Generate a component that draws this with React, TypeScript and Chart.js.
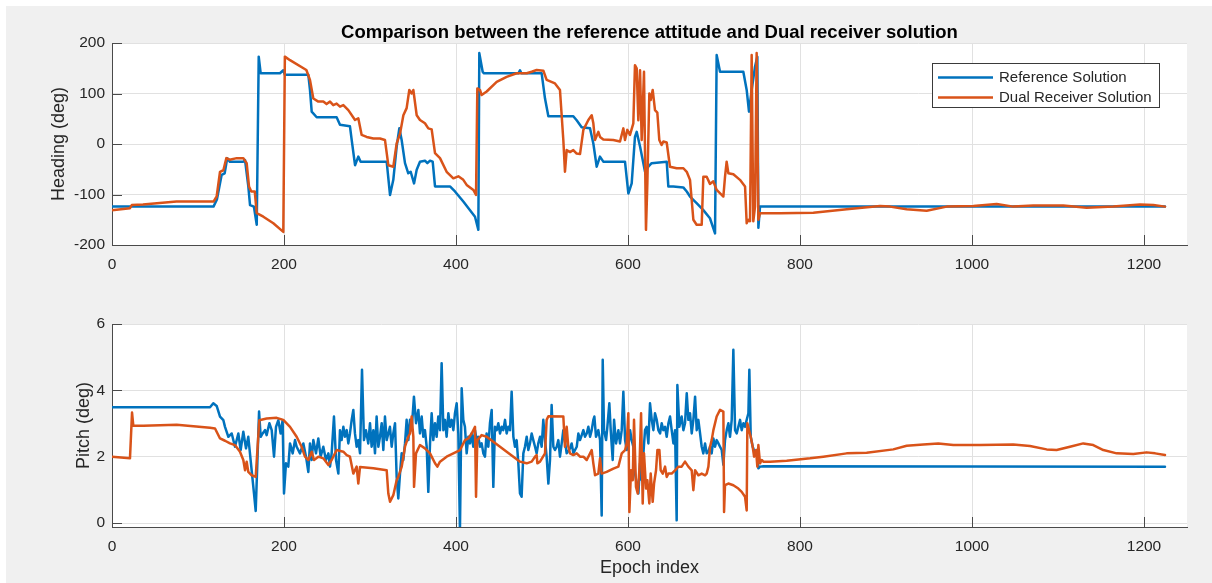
import React, { useEffect, useRef } from 'react';
import { Chart, registerables } from 'chart.js';

Chart.register(...registerables);

// ---------- data ----------
const titleText = 'Comparison between the reference attitude and Dual receiver solution';
const seriesNames = ['Reference Solution', 'Dual Receiver Solution'];
const xLabel = 'Epoch index';
const headingLabel = 'Heading (deg)';
const pitchLabel = 'Pitch (deg)';

const epochTicks = [0, 200, 400, 600, 800, 1000, 1200];
const headingTicks = [-200, -100, 0, 100, 200];
const pitchTicks = [0, 2, 4, 6];

// [epoch, heading deg]
const headingRef: number[][] = [
  [0, -124], [118, -124], [122, -110], [127.5, -61], [131, -58], [134, -28], [137, -35], [152.7, -35], [154.7, -32],
  [158.5, -84], [160.5, -121], [165, -124], [168.3, -160], [170.6, 173], [172.9, 140], [195.3, 140], [199.2, 146],
  [201, 137], [228.3, 137], [230.2, 107], [232.2, 64], [238, 53], [261.2, 53], [265.1, 38], [276.7, 35], [278.7, 8],
  [282.6, -42], [286.4, -25], [289.1, -35], [319.4, -35], [323.3, -101], [327.1, -71], [331, -5], [334.1, 31],
  [336.8, 8], [340.7, -38], [344.5, -58], [347.3, -55], [351.2, -78], [354.3, -51], [358.1, -35], [363.9, -33],
  [366.7, -38], [369.8, -33], [372.9, -35], [375.6, -84], [379.5, -84], [393, -84], [398.8, -94], [408.5, -114],
  [416.3, -131], [422.1, -144], [426, -170], [427.1, 180], [431, 143], [432.6, 140], [472.5, 140], [474.4, 146],
  [476, 140], [499.6, 140], [503.5, 90], [507.4, 55], [536.4, 55], [540.3, 47], [546.1, 33], [555.8, 31],
  [559.7, 1], [563.6, -45], [567.4, -25], [571.3, -35], [596.5, -35], [600.4, -98], [604.3, -78], [608.1, 14],
  [610.1, 24], [614, -5], [619.8, -55], [623.6, -45], [627.5, -38], [645, -35], [646.9, -84], [652.7, -84],
  [664.3, -86], [668.3, -94], [672.1, -104], [679.8, -117], [687.6, -131], [695.3, -147], [701.2, -177],
  [703.1, 176], [707, 143], [734.1, 143], [738, 107], [740.7, 64], [743.8, 107], [747.7, 153], [750.4, 173],
  [751.6, -166], [753.5, -124], [1224.4, -124],
];

const headingDual: number[][] = [
  [0, -131], [20.9, -127], [23, -121], [36, -120], [75, -114], [118, -114], [121.7, -104], [125.6, -55], [129.5, -52],
  [133, -28], [137, -31], [145, -28], [152.7, -28], [156.6, -38], [159.3, -84], [162, -94], [166, -94], [168.3, -137],
  [176, -144], [187.6, -157], [199.2, -174], [201, 173], [207, 166], [226, 146.5], [230.2, 127], [234.1, 90],
  [239.9, 84], [245.7, 84], [249.5, 79], [253.5, 84], [257.3, 77], [261.2, 80], [265.1, 74], [269, 77], [274.8, 67],
  [282.6, 47.5], [286.4, 51], [290.3, 18], [296.1, 14], [303.9, 11], [311.6, 11], [317.4, 8], [321.3, -42],
  [327.1, -45], [331, 1], [335, 21], [338.8, 57], [342.6, 71], [345.7, 107], [348.4, 100], [350.4, 107], [354.3, 57],
  [358.1, 47.5], [363.9, 41], [367.8, 31], [371.7, 29], [375.6, -18], [381.4, -28], [389.1, -55], [396.9, -68],
  [402.7, -64], [408.5, -71], [412.4, -81], [420.2, -91], [423.3, -101], [424.8, 110], [427.9, 107], [429.8, 97],
  [435.7, 104], [447.3, 123], [458.9, 133], [470.5, 140], [482.2, 140], [488, 143], [493.8, 146.5], [501.6, 145],
  [505.4, 127], [515.1, 120], [520.9, 107], [524.8, 8], [526.7, -55], [528.7, -12], [532.6, -16], [536.4, -12],
  [540.3, -19], [544.2, -20], [548.1, 28], [553.9, 47.5], [557.8, 57], [559.7, 41], [561.6, 8], [565.5, 24],
  [567.5, 14], [571.3, 9], [582.9, 8], [590.7, 5], [594.6, 31], [596.5, 8], [599.2, 28], [602.3, 18], [606.2, 41],
  [608.1, 156], [610.1, 150], [612, 47], [614, 146], [615.9, 8], [618.6, 143], [620.9, -170], [622.5, -78],
  [624.8, 100], [626.4, 87], [628.7, 107], [631.4, 67], [634.1, 62], [636.4, 8], [639.1, -2], [641.1, 5], [645, 3],
  [648.8, -45], [656.6, -48], [664.4, -48], [668.3, -55], [672.1, -71], [676, -150], [679.8, -160], [685.7, -160],
  [687.6, -65], [691.5, -65], [695.3, -79], [699.2, -74], [703.1, -91], [710.9, -104], [712.8, -65], [714.7, -35],
  [716.7, -58], [722.5, -60], [730.2, -71], [736.1, -84], [738, -157], [740, -150], [741.9, -153], [743.8, 176],
  [745.7, -153], [747.7, -124], [749.6, 180], [751.6, -150], [753.5, -137], [776.7, -137], [815.5, -136],
  [854.3, -129], [893, -123], [904.7, -124], [924, -129], [947.3, -132], [970.6, -124], [1001.6, -123],
  [1028.7, -119], [1048, -124], [1071.3, -122], [1106.2, -122], [1133.3, -126], [1164.3, -124], [1195.3, -120],
  [1210.9, -121], [1224.4, -124],
];

// [epoch, pitch deg]
const pitchRef: number[][] = [
  [0, 3.49], [114, 3.49], [117.8, 3.61], [121.7, 3.53], [125.6, 3.21], [129.5, 3.1], [131.4, 2.9], [135.3, 2.6],
  [139.2, 2.7], [143, 2.3], [146.9, 2.7], [149.6, 2.2], [152.7, 2.75], [155.8, 2.25], [158.5, 2.6], [162.4, 1.59],
  [165.1, 0.89], [167.1, 0.36], [169, 1.8], [171, 3.36], [172.9, 2.6], [175.2, 2.7], [177.9, 2.8], [179.8, 2.65],
  [183, 3.01], [185.7, 2.8], [188.4, 2.0], [190.7, 2.9], [193.4, 3.1], [196.1, 2.7], [198.4, 3.1], [200, 0.89],
  [202.3, 1.8], [205, 1.7], [207, 2.4], [210.1, 2.1], [212.8, 2.5], [214.7, 2.3], [218.6, 2.1], [222.5, 2.4],
  [225.6, 2.0], [228.3, 1.54], [230.2, 2.4], [232.2, 1.9], [234.1, 2.5], [237.2, 2.1], [239.9, 2.55], [242.6, 2.0],
  [245.7, 2.3], [248.8, 1.9], [251.6, 2.1], [253.5, 1.7], [255.4, 2.1], [258.1, 3.21], [260.5, 1.9], [263.2, 1.49],
  [265.1, 2.8], [267, 2.5], [269, 2.9], [270.9, 2.6], [272.9, 2.8], [274.8, 2.4], [276.7, 2.7], [278.7, 3.11],
  [280.6, 3.41], [282.5, 2.7], [284.5, 2.3], [286.4, 2.5], [288.4, 2.1], [290.7, 4.62], [293, 2.5], [295.3, 2.8],
  [298, 2.4], [300, 3.01], [301.9, 2.3], [303.9, 2.8], [305.8, 2.1], [307.7, 3.21], [309.7, 2.3], [311.6, 2.6],
  [313.6, 3.01], [315.5, 2.2], [317.4, 3.21], [319.4, 2.5], [321.3, 2.7], [323.2, 2.9], [325.2, 2.3], [327.1, 2.7],
  [329.1, 3.01], [331, 1.39], [332.9, 0.74], [334.9, 1.49], [336.8, 2.1], [338.7, 1.9], [340.7, 2.4], [342.6, 3.11],
  [344.6, 2.5], [346.5, 3.11], [348.4, 2.8], [351.1, 3.81], [353.5, 3.01], [356.2, 3.41], [358.1, 2.7], [360.1, 3.21],
  [362, 2.6], [363.9, 2.8], [365.9, 2.3], [367.8, 0.94], [369.8, 2.4], [371.7, 3.31], [373.6, 2.5], [375.6, 3.01],
  [377.5, 2.6], [379.4, 3.21], [381.4, 2.8], [383.3, 4.82], [385.3, 2.8], [387.2, 3.11], [389.1, 2.6], [391.1, 3.31],
  [393, 2.9], [395, 3.11], [396.9, 2.8], [398.8, 3.31], [400.8, 3.61], [402.7, 2.7], [404.6, -0.2], [406.6, 4.06],
  [408.5, 3.11], [410.4, 2.9], [412.4, 2.1], [414.3, 2.6], [416.3, 2.4], [418.2, 2.7], [420.1, 2.3], [422.1, 2.8],
  [424, 2.5], [425.9, 2.6], [427.9, 2.3], [429.8, 2.4], [431.8, 2.1], [433.7, 2.0], [435.6, 2.7], [437.6, 2.3],
  [439.5, 3.01], [441.5, 3.41], [443.4, 1.09], [445.3, 2.9], [447.3, 2.8], [449.2, 3.01], [451.2, 2.7], [453.1, 2.9],
  [455, 2.8], [457, 3.11], [458.9, 2.7], [460.8, 2.9], [462.8, 2.8], [464.7, 3.96], [466.7, 2.6], [468.6, 2.3],
  [470.5, 2.5], [472.5, 1.8], [474.4, 0.89], [476.3, 0.79], [478.3, 2.1], [480.2, 2.3], [482.2, 2.6], [484.1, 2.2],
  [486, 2.4], [488, 2.7], [489.9, 2.5], [491.9, 2.3], [493.8, 2.1], [495.7, 2.4], [497.7, 2.6], [499.6, 2.3],
  [501.5, 3.11], [503.5, 2.5], [505.4, 2.0], [507.4, 1.19], [509.3, 1.9], [511.2, 3.56], [513.2, 2.3], [515.1, 2.2],
  [517.1, 2.3], [519, 2.5], [520.9, 2.0], [522.9, 2.4], [524.8, 2.8], [528.7, 2.1], [532.6, 2.25], [534.5, 2.4],
  [536.5, 2.1], [538.4, 2.2], [540.4, 2.3], [542.3, 2.7], [544.2, 2.5], [546.2, 2.65], [548.1, 2.8], [550, 2.6],
  [552, 2.7], [553.9, 2.9], [555.9, 2.6], [557.8, 2.8], [559.7, 3.11], [560.9, 3.21], [562.8, 2.6], [565.5, 2.8],
  [567.5, 2.5], [569.4, 0.23], [570.6, 4.92], [572.1, 2.8], [574.5, 2.5], [576, 2.9], [578.3, 3.61], [579.9, 2.8],
  [582.2, 1.9], [583.8, 3.11], [586.1, 2.4], [588.8, 2.8], [590.7, 2.4], [592.7, 2.8], [594.6, 3.96], [596.6, 2.5],
  [598.5, 2.2], [600.4, 2.3], [602.4, 2.8], [604.3, 2.5], [606.2, 2.3], [608.2, 1.49], [610.1, 1.19], [612.1, 0.89],
  [614, 1.8], [615.9, 1.29], [617.9, 2.1], [619.8, 2.8], [621.7, 2.9], [623.7, 2.4], [625.6, 3.61], [627.6, 3.11],
  [629.5, 2.8], [631.4, 3.31], [633.4, 3.11], [635.3, 2.8], [637.3, 2.7], [639.2, 3.01], [641.1, 2.8], [643.1, 2.9],
  [645, 2.6], [647, 3.01], [648.9, 3.21], [650.8, 2.8], [652.8, 2.4], [654.7, 2.8], [656.6, 0.08], [657.4, 4.16],
  [659.7, 2.9], [662.4, 3.21], [664.4, 2.8], [666.3, 3.01], [668.3, 3.91], [670.2, 3.11], [672.1, 3.31], [674.1, 2.7],
  [676, 3.11], [678, 3.81], [679.9, 2.8], [681.8, 3.11], [683.8, 2.7], [685.7, 2.3], [687.6, 2.1], [689.6, 2.4],
  [691.5, 2.1], [693.5, 2.15], [695.4, 2.3], [697.3, 2.1], [699.3, 2.55], [701.2, 2.3], [703.1, 2.5], [705.1, 2.4],
  [707, 2.3], [709, 2.2], [710.9, 1.75], [712.8, 2.5], [714.8, 2.8], [716.7, 3.01], [718.6, 2.6], [720.6, 3.11],
  [722.5, 5.22], [724.5, 2.8], [726.4, 2.7], [728.3, 2.9], [730.3, 3.11], [732.2, 2.8], [734.2, 3.01], [736.1, 2.9],
  [738, 3.11], [740, 3.31], [741.1, 4.62], [742.7, 2.6], [745, 2.3], [747.7, 2.1], [749.7, 2.2], [751.6, 1.65],
  [753.5, 1.7], [757.4, 1.71], [1224.4, 1.7],
];

const pitchDual: number[][] = [
  [0, 2.0], [20.9, 1.95], [23.3, 3.33], [24.8, 2.93], [36.4, 2.93], [75.2, 2.96], [114, 2.87], [119.8, 2.85],
  [125.6, 2.55], [131.4, 2.48], [137.2, 2.4], [143, 2.35], [148.8, 2.15], [152.7, 1.9], [154.7, 1.59], [156.6, 1.85],
  [158.5, 1.54], [162.4, 1.44], [167.1, 1.39], [171.3, 3.1], [179.8, 3.15], [191.5, 3.17], [199.2, 3.11], [207, 2.9],
  [214.7, 2.6], [220.5, 2.3], [224.4, 2.0], [228.3, 1.9], [232.2, 2.15], [234.9, 1.9], [239.9, 2.0], [245.7, 1.95],
  [251.6, 1.75], [255.4, 1.9], [261.2, 2.2], [269, 2.15], [272.9, 2.05], [276.7, 2.0], [280.6, 1.49], [284.5, 1.7],
  [286.4, 1.19], [288.4, 1.69], [303.9, 1.65], [319.4, 1.59], [321.3, 0.89], [323.3, 0.64], [327.1, 0.84],
  [331, 1.29], [332.9, 1.39], [336.8, 1.69], [340.7, 2.3], [344.5, 2.6], [346.5, 2.7], [348.4, 3.21], [350.4, 2.6],
  [351.2, 1.09], [353.5, 2.1], [358.1, 2.35], [363.9, 2.25], [369.8, 2.1], [375.6, 1.8], [378.3, 1.7], [381.4, 1.85],
  [389.1, 2.0], [396.9, 2.1], [404.7, 2.2], [410.5, 2.5], [414.3, 2.55], [418.2, 2.7], [422.1, 2.9], [423.3, 0.79],
  [424.8, 2.5], [429.8, 2.65], [435.7, 2.6], [443.4, 2.45], [451.2, 2.3], [458.9, 2.15], [466.7, 2.0], [474.4, 1.85],
  [482.2, 1.8], [488, 1.85], [491.9, 2.0], [493.8, 2.05], [494.6, 1.8], [497.7, 1.85], [503.5, 2.1], [505.4, 3.11],
  [507.4, 3.22], [524.8, 3.21], [526.7, 2.3], [528.7, 2.9], [530.6, 2.3], [532.6, 2.1], [536.4, 2.05], [540.4, 2.1],
  [544.2, 2.0], [548.1, 2.0], [552, 1.9], [555.9, 2.1], [557.8, 2.2], [559.7, 1.8], [561.7, 1.44], [565.5, 1.49],
  [567.5, 1.95], [569.4, 1.49], [575.2, 1.54], [583, 1.64], [588.8, 1.7], [592.7, 2.1], [596.6, 2.2], [598.5, 2.4],
  [600.4, 3.31], [601.6, 0.33], [603.5, 1.59], [605.5, 1.29], [607, 3.11], [609.3, 1.09], [611.3, 0.89],
  [613.2, 1.59], [615.2, 3.31], [617.1, 0.59], [618.6, 2.1], [621, 1.04], [622.5, 1.29], [624.8, 0.59], [626.4, 1.49],
  [628.7, 0.64], [630.3, 1.19], [632.6, 1.59], [634.2, 2.2], [636.5, 2.2], [638, 1.59], [640.4, 1.49], [643.1, 1.7],
  [645, 1.39], [647, 1.49], [650.8, 1.49], [654.7, 1.59], [658.6, 1.7], [662.4, 1.7], [666.3, 1.85], [670.2, 1.7],
  [674.1, 1.59], [676, 0.99], [678, 1.59], [681.8, 1.44], [685.7, 1.49], [689.6, 1.44], [691.5, 1.49], [693.5, 1.7],
  [695.4, 2.3], [697.3, 2.5], [699.3, 2.8], [703.1, 3.21], [707, 3.41], [710.9, 3.36], [711.7, 0.33], [712.8, 1.14],
  [716.7, 1.19], [722.5, 1.14], [728.3, 1.04], [732.2, 0.94], [736.1, 0.79], [738, 0.38], [738.8, 3.01],
  [740.7, 2.8], [742.7, 2.6], [745, 2.3], [746.6, 2.0], [748.9, 2.2], [750.4, 1.7], [751.6, 2.35], [753.5, 1.8],
  [755.5, 1.9], [757.4, 1.85], [765.2, 1.85], [784.5, 1.88], [811.7, 1.95], [827.1, 2.0], [854.2, 2.1],
  [877.5, 2.12], [908.5, 2.22], [924, 2.33], [943.4, 2.37], [960.8, 2.4], [978.3, 2.35], [1009.3, 2.35],
  [1048, 2.37], [1067.4, 2.32], [1086.8, 2.22], [1098.4, 2.2], [1113.9, 2.3], [1129.4, 2.4], [1141, 2.35],
  [1152.7, 2.2], [1168.2, 2.1], [1187.6, 2.08], [1203, 2.13], [1213, 2.1], [1224.4, 2.05],
];

// ---------- styling ----------
const BLUE = '#0072BD';
const ORANGE = '#D95319';
const AXIS = '#4a4a4a';
const GRID = '#e1e1e1';
const TEXT = '#262626';
const FONT = "'Liberation Sans', Arial, Helvetica, sans-serif";

type Extra = (ctx: CanvasRenderingContext2D, area: any) => void;

function makeDecor(extra: Extra) {
  return {
    id: 'decor',
    beforeDraw(chart: any) {
      const { ctx, chartArea: a } = chart;
      ctx.save();
      ctx.fillStyle = '#ffffff';
      ctx.fillRect(a.left, a.top, a.right - a.left, a.bottom - a.top);
      ctx.restore();
    },
    beforeDatasetsDraw(chart: any) {
      const { ctx, chartArea: a, scales } = chart;
      ctx.save();
      ctx.strokeStyle = AXIS;
      ctx.lineWidth = 1;
      ctx.beginPath();
      for (const t of scales.x.ticks) {
        const px = Math.round(scales.x.getPixelForValue(t.value)) + 0.5;
        ctx.moveTo(px, a.bottom);
        ctx.lineTo(px, a.bottom - 10);
      }
      for (const t of scales.y.ticks) {
        const py = Math.round(scales.y.getPixelForValue(t.value)) + 0.5;
        ctx.moveTo(a.left, py);
        ctx.lineTo(a.left + 10, py);
      }
      ctx.stroke();
      ctx.restore();
    },
    afterDraw(chart: any) {
      const { ctx, chartArea } = chart;
      ctx.save();
      extra(ctx, chartArea);
      ctx.restore();
    },
  };
}

function drawYLabel(ctx: CanvasRenderingContext2D, text: string, x: number, y: number) {
  ctx.save();
  ctx.translate(x, y);
  ctx.rotate(-Math.PI / 2);
  ctx.font = `18px ${FONT}`;
  ctx.fillStyle = TEXT;
  ctx.textAlign = 'center';
  ctx.textBaseline = 'alphabetic';
  ctx.fillText(text, 0, 0);
  ctx.restore();
}

const topExtra: Extra = (ctx, a) => {
  // title
  ctx.font = `bold 18.5px ${FONT}`;
  ctx.fillStyle = '#000';
  ctx.textAlign = 'center';
  ctx.textBaseline = 'alphabetic';
  ctx.fillText(titleText, (a.left + a.right) / 2, 37.5);
  drawYLabel(ctx, headingLabel, 63.5, (a.top + a.bottom) / 2);
  // legend
  const lx = 932.5, ly = 63.5, lw = 227, lh = 44;
  ctx.fillStyle = '#fff';
  ctx.fillRect(lx, ly, lw, lh);
  ctx.strokeStyle = '#3a3a3a';
  ctx.lineWidth = 1;
  ctx.strokeRect(lx, ly, lw, lh);
  const rows = [
    { name: seriesNames[0], color: BLUE, y: 77.5 },
    { name: seriesNames[1], color: ORANGE, y: 97.5 },
  ];
  ctx.font = `15px ${FONT}`;
  ctx.textAlign = 'left';
  ctx.textBaseline = 'middle';
  for (const r of rows) {
    ctx.strokeStyle = r.color;
    ctx.lineWidth = 2.5;
    ctx.beginPath();
    ctx.moveTo(938, r.y);
    ctx.lineTo(993, r.y);
    ctx.stroke();
    ctx.fillStyle = TEXT;
    ctx.fillText(r.name, 999, r.y);
  }
};

const bottomExtra: Extra = (ctx, a) => {
  drawYLabel(ctx, pitchLabel, 89, (a.top + a.bottom) / 2);
  ctx.font = `18px ${FONT}`;
  ctx.fillStyle = TEXT;
  ctx.textAlign = 'center';
  ctx.textBaseline = 'alphabetic';
  ctx.fillText(xLabel, (a.left + a.right) / 2, 283);
};

interface PanelProps {
  top: number;
  height: number;
  padTop: number;
  xHeight: number;
  yMin: number;
  yMax: number;
  yTicks: number[];
  refData: number[][];
  dualData: number[][];
  extra: Extra;
}

function Panel(p: PanelProps) {
  const ref = useRef<HTMLCanvasElement>(null);
  useEffect(() => {
    const tickFont = { family: FONT, size: 15.5 };
    const chart = new Chart(ref.current as HTMLCanvasElement, {
      type: 'line',
      data: {
        datasets: [
          {
            label: seriesNames[0],
            data: p.refData.map(([x, y]) => ({ x, y })),
            borderColor: BLUE,
            backgroundColor: BLUE,
            borderWidth: 2.5,
            pointRadius: 0,
            tension: 0,
            borderJoinStyle: 'round',
            borderCapStyle: 'round',
            order: 2,
          },
          {
            label: seriesNames[1],
            data: p.dualData.map(([x, y]) => ({ x, y })),
            borderColor: ORANGE,
            backgroundColor: ORANGE,
            borderWidth: 2.5,
            pointRadius: 0,
            tension: 0,
            borderJoinStyle: 'round',
            borderCapStyle: 'round',
            order: 1,
          },
        ],
      },
      options: {
        responsive: false,
        maintainAspectRatio: false,
        animation: false,
        devicePixelRatio: 1,
        layout: { padding: { left: 0, right: 25, top: p.padTop, bottom: 0 } },
        plugins: {
          legend: { display: false },
          tooltip: { enabled: false },
          title: { display: false },
        },
        scales: {
          x: {
            type: 'linear',
            min: 0,
            max: 1250,
            afterBuildTicks: (s: any) => {
              s.ticks = epochTicks.map((v) => ({ value: v }));
            },
            afterFit: (s: any) => {
              s.height = p.xHeight;
            },
            ticks: {
              font: tickFont,
              color: TEXT,
              padding: 10,
              maxRotation: 0,
              autoSkip: false,
              callback: (v: any) => String(v),
            },
            grid: { color: GRID, lineWidth: 1, drawTicks: false },
            border: { display: true, color: AXIS, width: 1 },
          },
          y: {
            type: 'linear',
            min: p.yMin,
            max: p.yMax,
            afterBuildTicks: (s: any) => {
              s.ticks = p.yTicks.map((v) => ({ value: v }));
            },
            afterFit: (s: any) => {
              s.width = 112;
            },
            ticks: {
              font: tickFont,
              color: TEXT,
              padding: 7,
              autoSkip: false,
              callback: (v: any) => String(v),
            },
            grid: { color: GRID, lineWidth: 1, drawTicks: false },
            border: { display: true, color: AXIS, width: 1 },
          },
        },
      } as any,
      plugins: [makeDecor(p.extra)],
    });
    return () => chart.destroy();
  }, []);
  return (
    <canvas
      ref={ref}
      width={1212}
      height={p.height}
      style={{ position: 'absolute', left: 0, top: p.top, width: 1212, height: p.height }}
    />
  );
}

export default function App() {
  return (
    <div style={{ position: 'absolute', left: 0, top: 0, width: 1212, height: 583, background: '#ffffff', overflow: 'hidden' }}>
      <div style={{ position: 'absolute', left: 6, top: 6, width: 1206, height: 577, background: '#f0f0f0' }} />
      <Panel
        top={0}
        height={290}
        padTop={43}
        xHeight={45}
        yMin={-200}
        yMax={200}
        yTicks={headingTicks}
        refData={headingRef}
        dualData={headingDual}
        extra={topExtra}
      />
      <Panel
        top={290}
        height={293}
        padTop={34}
        xHeight={56}
        yMin={-0.12}
        yMax={6}
        yTicks={pitchTicks}
        refData={pitchRef}
        dualData={pitchDual}
        extra={bottomExtra}
      />
    </div>
  );
}
